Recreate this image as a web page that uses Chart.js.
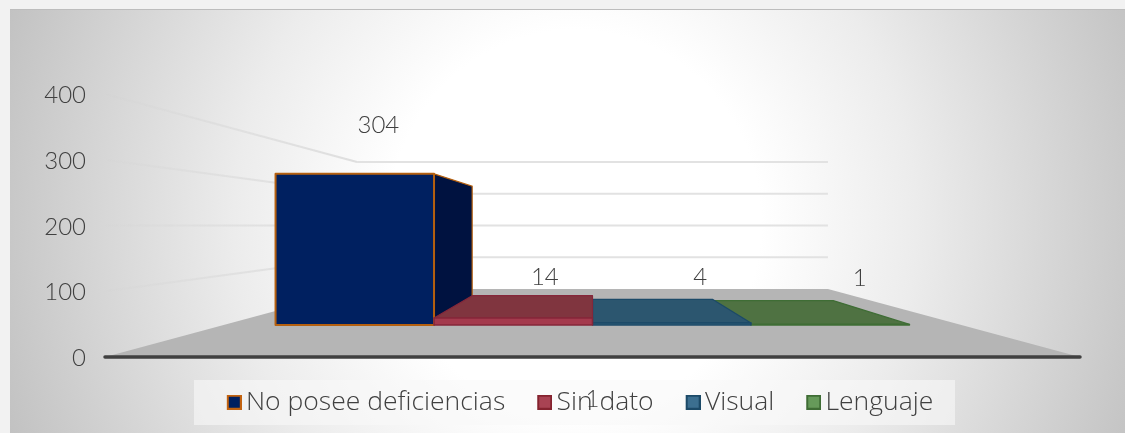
<!DOCTYPE html>
<html><head><meta charset="utf-8">
<style>
html,body{margin:0;padding:0;width:1125px;height:433px;overflow:hidden;background:#f2f2f2}
#panel{position:absolute;left:10px;top:9px;width:1115px;height:424px;box-sizing:border-box;border-top:1px solid #bdbdbd;
background:radial-gradient(ellipse 620px 640px at 565px 212px,#ffffff 30%,#ececec 55%,#bfbfbf 100%)}
canvas{position:absolute;left:0;top:0}
</style>
<script src="https://cdn.jsdelivr.net/npm/chart.js@4"></script>
</head><body><div id="panel"></div><canvas id="c" width="1125" height="433"></canvas>
<script>
const categories = ['1'];
const seriesNames = ['No posee deficiencias', 'Sin dato', 'Visual', 'Lenguaje'];
const noPosee = [304];
const sinDato = [14];
const visual = [4];
const lenguaje = [1];
const yTicks = [0, 100, 200, 300, 400];
const swatchFill = ['#002060', '#a94353', '#3c6f90', '#669a5a'];
const swatchLine = ['#c2620f', '#85232f', '#1c4a68', '#3f6d35'];
const frontFill = ['#002060', '#a43a4d', '#35657f', '#4f7242'];
const topFill = ['#001240', '#80353f', '#2c566f', '#4f7242'];
const sideFill = ['#001240', '#7c2a38', '#204a62', '#3f6335'];
const edge = ['#b5600f', '#85273a', '#1c4a68', '#3f6d35'];
const drawOrder = [0, 3, 2, 1];
const labelNudgeX = [-5, 22, 38, 58];
const labelNudgeY = [-55, -30, -34, -34];
const FONT = 'Lato';
const LEGEND_FONT = '"Open Sans"';
const KW = 0.483, KF = 0.756, KB = 0.574, KM = 0.665;

function swatch(fill, line) {
  const s = document.createElement('canvas'); s.width = 19; s.height = 15;
  const x = s.getContext('2d');
  x.fillStyle = line; x.fillRect(4, 0, 15, 15);
  x.fillStyle = fill; x.fillRect(6, 2, 11, 11);
  return s;
}
const swatches = swatchFill.map((f, i) => swatch(f, swatchLine[i]));

function poly(ctx, pts, fill, stroke, lw) {
  ctx.beginPath();
  pts.forEach((p, i) => i ? ctx.lineTo(p[0], p[1]) : ctx.moveTo(p[0], p[1]));
  ctx.closePath();
  if (fill) { ctx.fillStyle = fill; ctx.fill(); }
  if (stroke) { ctx.strokeStyle = stroke; ctx.lineWidth = lw; ctx.lineJoin = 'round'; ctx.stroke(); }
}

const scene = {
  id: 'scene',
  beforeLayout(chart) {
    const lg = chart.legend;
    if (lg && !lg._wrapped) {
      const f = lg.fit;
      lg.fit = function () { f.call(this); this.height = 45; };
      lg._wrapped = true;
    }
  },
  afterLayout(chart) {
    const lg = chart.legend, pad = lg.options.labels.padding;
    lg.left -= 10; lg.right -= 10;
    lg.top += 9 - pad; lg.bottom += 9;
    chart.scales.x.bottom += 28;
  },
  beforeDraw(chart) {
    const ctx = chart.ctx, lg = chart.legend, pad = lg.options.labels.padding;
    ctx.save();
    ctx.fillStyle = 'rgba(248,248,248,0.6)';
    ctx.fillRect(194, lg.top + pad - 9, 761, 45);
    ctx.restore();
  },
  beforeDatasetsDraw(chart) {
    const ctx = chart.ctx, a = chart.chartArea, ys = chart.scales.y;
    const vx = (a.left + a.right) / 2, vy = ys.getPixelForValue(200);
    const P = (x, y, k) => [vx + (x - vx) * k, vy + (y - vy) * k];
    ctx.save();
    // floor
    const b0 = ys.getPixelForValue(0);
    poly(ctx, [[a.left, b0], [a.right, b0], P(a.right, b0, KW), P(a.left, b0, KW)], '#b5b5b5');
    // grid
    ys.ticks.forEach(t => {
      if (t.value === 0) return;
      const y = ys.getPixelForValue(t.value);
      const q = P(a.left, y, KW), r = P(a.right, y, KW);
      const g = ctx.createLinearGradient(a.left, 0, q[0], 0);
      g.addColorStop(0, 'rgba(205,205,205,0)');
      g.addColorStop(1, 'rgba(222,222,222,1)');
      ctx.strokeStyle = g; ctx.lineWidth = 2;
      ctx.beginPath(); ctx.moveTo(a.left, y); ctx.lineTo(q[0], q[1]); ctx.stroke();
      ctx.strokeStyle = '#e2e2e2';
      ctx.beginPath(); ctx.moveTo(q[0], q[1]); ctx.lineTo(r[0], r[1]); ctx.stroke();
    });
    // axis
    ctx.strokeStyle = '#404040'; ctx.lineWidth = 3.5; ctx.lineCap = 'round';
    ctx.beginPath(); ctx.moveTo(a.left, b0); ctx.lineTo(a.right, b0); ctx.stroke();
    ctx.lineCap = 'butt';
    // bars
    drawOrder.forEach(i => {
      const el = chart.getDatasetMeta(i).data[0];
      const x0 = el.x - el.width / 2, x1 = el.x + el.width / 2, yt = el.y, yb = el.base;
      const lw = i === 0 ? 2 : 1.5;
      if (x1 < vx) {
        poly(ctx, [P(x1, yt, KF), P(x1, yt, KB), P(x1, yb, KB), P(x1, yb, KF)], sideFill[i], i === 0 ? null : edge[i], lw);
        if (i === 0) {
          ctx.strokeStyle = edge[i]; ctx.lineWidth = 1.2;
          const u = P(x1, yt, KF), v = P(x1, yt, KB), w = P(x1, yb, KB);
          ctx.beginPath(); ctx.moveTo(u[0], u[1]); ctx.lineTo(v[0], v[1]); ctx.lineTo(w[0], w[1]); ctx.stroke();
        }
      }
      if (yt > vy) {
        poly(ctx, [P(x0, yt, KF), P(x1, yt, KF), P(x1, yt, KB), P(x0, yt, KB)], topFill[i], edge[i], 1.2);
      }
      poly(ctx, [P(x0, yt, KF), P(x1, yt, KF), P(x1, yb, KF), P(x0, yb, KF)], frontFill[i], edge[i], lw);
    });
    // value labels
    ctx.fillStyle = '#404040';
    ctx.font = '300 24px ' + FONT;
    ctx.textAlign = 'center'; ctx.textBaseline = 'middle';
    chart.data.datasets.forEach((d, i) => {
      const el = chart.getDatasetMeta(i).data[0];
      const p = P(el.x, el.y, KM);
      ctx.fillText(String(d.data[0]), p[0] + labelNudgeX[i], p[1] + labelNudgeY[i]);
    });
    ctx.restore();
    return false;
  }
};

const mk = (i, arr) => ({ label: seriesNames[i], data: arr, backgroundColor: swatchFill[i], borderColor: swatchLine[i], borderWidth: 2 });

new Chart(document.getElementById('c'), {
  type: 'bar',
  data: { labels: categories, datasets: [mk(0, noPosee), mk(1, sinDato), mk(2, visual), mk(3, lenguaje)] },
  plugins: [scene],
  options: {
    responsive: false, animation: false,
    layout: { padding: { left: 0, right: 45, top: 94, bottom: 8 } },
    datasets: { bar: { categoryPercentage: 0.86, barPercentage: 1 } },
    scales: {
      x: {
        grid: { display: false }, border: { display: false },
        afterFit(s) { s.height = 23; },
        ticks: { padding: 20, maxRotation: 0, color: '#404040', font: { family: FONT, size: 24, weight: '300' } }
      },
      y: {
        min: 0, max: 400,
        afterBuildTicks(s) { s.ticks = yTicks.map(v => ({ value: v })); },
        grid: { display: false, drawTicks: false }, border: { display: false },
        afterFit(s) { s.width = 105; },
        ticks: {
          padding: 19, color: '#404040',
          font: { family: FONT, size: 24, weight: '300', lineHeight: '3px' },
          callback: v => ['', String(v)]
        }
      }
    },
    plugins: {
      tooltip: { enabled: false },
      legend: {
        position: 'bottom', fullSize: false,
        labels: {
          usePointStyle: true, pointStyleWidth: 1, padding: 37, color: '#404040',
          font: { family: LEGEND_FONT, size: 26.5, weight: '300' },
          generateLabels(chart) {
            return Chart.defaults.plugins.legend.labels.generateLabels(chart).map((l, i) => Object.assign(l, { pointStyle: swatches[i] }));
          }
        }
      }
    }
  }
});
</script></body></html>
